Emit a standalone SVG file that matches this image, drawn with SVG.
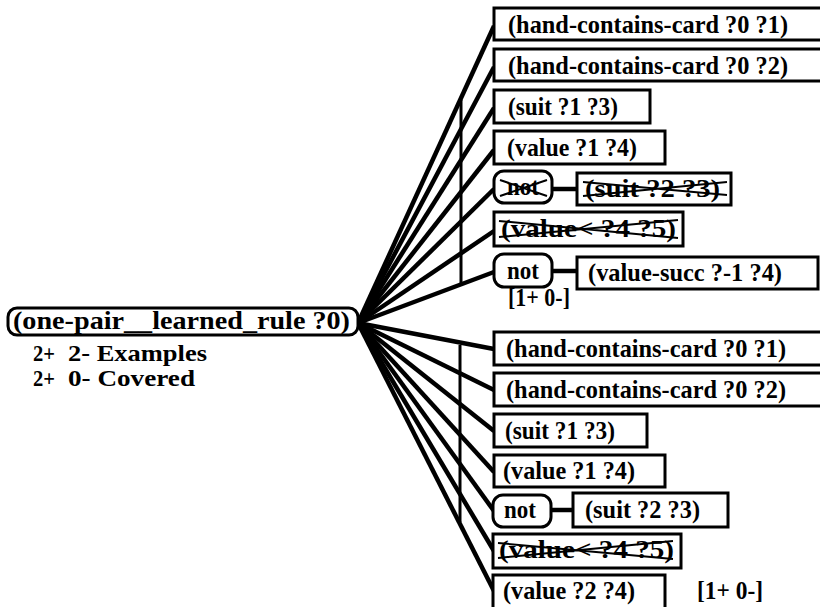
<svg xmlns="http://www.w3.org/2000/svg" width="820" height="607" viewBox="0 0 820 607">
  <style>
    .box { fill: #fff; stroke: #000; stroke-width: 3; }
    .t { font-family: "Liberation Serif", "Times New Roman", serif; font-weight: bold; font-size: 26px; fill: #000; }
    .s { font-size: 23px; }
    .fan { stroke: #000; stroke-width: 4.5; fill: none; }
    .bar { stroke: #000; stroke-width: 3; fill: none; }
    .x { stroke: #000; stroke-width: 2; fill: none; }
  </style>
  <rect width="820" height="607" fill="#fff"/>

  <!-- connectors: fan from the rule node, spines and not-links -->
  <g id="connectors">
    <g class="fan">
      <line x1="358" y1="323" x2="494" y2="26"/>
      <line x1="358" y1="323" x2="494" y2="67"/>
      <line x1="358" y1="323" x2="494" y2="108"/>
      <line x1="358" y1="323" x2="494" y2="150"/>
      <line x1="358" y1="323" x2="494" y2="189"/>
      <line x1="358" y1="323" x2="494" y2="231"/>
      <line x1="358" y1="323" x2="494" y2="272"/>
      <line x1="358" y1="323" x2="494" y2="349"/>
      <line x1="358" y1="323" x2="494" y2="390"/>
      <line x1="358" y1="323" x2="494" y2="431"/>
      <line x1="358" y1="323" x2="494" y2="472"/>
      <line x1="358" y1="323" x2="494" y2="511"/>
      <line x1="358" y1="323" x2="494" y2="551"/>
      <line x1="358" y1="323" x2="494" y2="591"/>
    </g>
    <line class="bar" x1="461" y1="100" x2="461" y2="283"/>
    <line class="bar" x1="460" y1="345" x2="460" y2="522"/>
    <line class="fan" x1="552" y1="189" x2="577" y2="189"/>
    <line class="fan" x1="552" y1="271" x2="577" y2="271"/>
    <line class="fan" x1="551" y1="510" x2="573" y2="510"/>
  </g>

  <!-- rule node -->
  <g id="rule">
    <rect class="box" x="8" y="308" width="350" height="27" rx="9" stroke-width="2"/>
    <text class="t" x="13" y="329" textLength="337" lengthAdjust="spacingAndGlyphs">(one-pair__learned_rule ?0)</text>
    <text class="t s" x="33" y="361" textLength="22" lengthAdjust="spacingAndGlyphs">2+</text>
    <text class="t s" x="68" y="361" textLength="139" lengthAdjust="spacingAndGlyphs">2- Examples</text>
    <text class="t s" x="33" y="386" textLength="22" lengthAdjust="spacingAndGlyphs">2+</text>
    <text class="t s" x="68" y="386" textLength="127" lengthAdjust="spacingAndGlyphs">0- Covered</text>
  </g>

  <!-- first clause -->
  <g id="a1">
    <rect class="box" x="494" y="8" width="340" height="32"/>
    <text class="t" x="508" y="33" textLength="280" lengthAdjust="spacingAndGlyphs">(hand-contains-card ?0 ?1)</text>
  </g>
  <g id="a2">
    <rect class="box" x="494" y="49" width="340" height="32"/>
    <text class="t" x="508" y="74" textLength="280" lengthAdjust="spacingAndGlyphs">(hand-contains-card ?0 ?2)</text>
  </g>
  <g id="a3">
    <rect class="box" x="494" y="90" width="156" height="33"/>
    <text class="t" x="508" y="115" textLength="110" lengthAdjust="spacingAndGlyphs">(suit ?1 ?3)</text>
  </g>
  <g id="a4">
    <rect class="box" x="494" y="131" width="171" height="33"/>
    <text class="t" x="507" y="156" textLength="130" lengthAdjust="spacingAndGlyphs">(value ?1 ?4)</text>
  </g>
  <g id="a5">
    <rect class="box" x="494" y="171" width="58" height="32" rx="10"/>
    <text class="t" x="507" y="195" textLength="32" lengthAdjust="spacingAndGlyphs">not</text>
    <path class="x" d="M500,180 L547,196 M500,196 L547,180"/>
  </g>
  <g id="a5c">
    <rect class="box" x="577" y="173" width="154" height="32"/>
    <text class="t" x="585" y="197" textLength="135" lengthAdjust="spacingAndGlyphs">(suit ?2 ?3)</text>
    <path class="x" d="M583,182 L727,195 M583,196 L727,182"/>
  </g>
  <g id="a6">
    <rect class="box" x="494" y="212" width="189" height="34"/>
    <text class="t" x="501" y="237" textLength="175" lengthAdjust="spacingAndGlyphs">(value&lt; ?4 ?5)</text>
    <path class="x" d="M499,221 L678,238 M499,237 L678,220"/>
  </g>
  <g id="a7">
    <rect class="box" x="494" y="254" width="58" height="33" rx="10"/>
    <text class="t" x="507" y="279" textLength="32" lengthAdjust="spacingAndGlyphs">not</text>
  </g>
  <g id="a7c">
    <rect class="box" x="577" y="257" width="241" height="32"/>
    <text class="t" x="588" y="281" textLength="194" lengthAdjust="spacingAndGlyphs">(value-succ ?-1 ?4)</text>
  </g>
  <text class="t" x="508" y="306" textLength="62" lengthAdjust="spacingAndGlyphs">[1+ 0-]</text>

  <!-- second clause -->
  <g id="b1">
    <rect class="box" x="494" y="332" width="340" height="33"/>
    <text class="t" x="506" y="357" textLength="280" lengthAdjust="spacingAndGlyphs">(hand-contains-card ?0 ?1)</text>
  </g>
  <g id="b2">
    <rect class="box" x="494" y="373" width="340" height="33"/>
    <text class="t" x="506" y="398" textLength="280" lengthAdjust="spacingAndGlyphs">(hand-contains-card ?0 ?2)</text>
  </g>
  <g id="b3">
    <rect class="box" x="494" y="414" width="153" height="33"/>
    <text class="t" x="505" y="439" textLength="110" lengthAdjust="spacingAndGlyphs">(suit ?1 ?3)</text>
  </g>
  <g id="b4">
    <rect class="box" x="494" y="455" width="171" height="32"/>
    <text class="t" x="503" y="479" textLength="132" lengthAdjust="spacingAndGlyphs">(value ?1 ?4)</text>
  </g>
  <g id="b5">
    <rect class="box" x="493" y="495" width="58" height="32" rx="10"/>
    <text class="t" x="504" y="518" textLength="32" lengthAdjust="spacingAndGlyphs">not</text>
  </g>
  <g id="b5c">
    <rect class="box" x="573" y="493" width="155" height="34"/>
    <text class="t" x="585" y="518" textLength="115" lengthAdjust="spacingAndGlyphs">(suit ?2 ?3)</text>
  </g>
  <g id="b6">
    <rect class="box" x="493" y="534" width="188" height="34"/>
    <text class="t" x="499" y="558" textLength="175" lengthAdjust="spacingAndGlyphs">(value&lt; ?4 ?5)</text>
    <path class="x" d="M498,543 L673,559 M498,558 L673,541"/>
  </g>
  <g id="b7">
    <rect class="box" x="493" y="575" width="172" height="40"/>
    <text class="t" x="503" y="599" textLength="132" lengthAdjust="spacingAndGlyphs">(value ?2 ?4)</text>
  </g>
  <text class="t" x="697" y="599" textLength="66" lengthAdjust="spacingAndGlyphs">[1+ 0-]</text>
</svg>
